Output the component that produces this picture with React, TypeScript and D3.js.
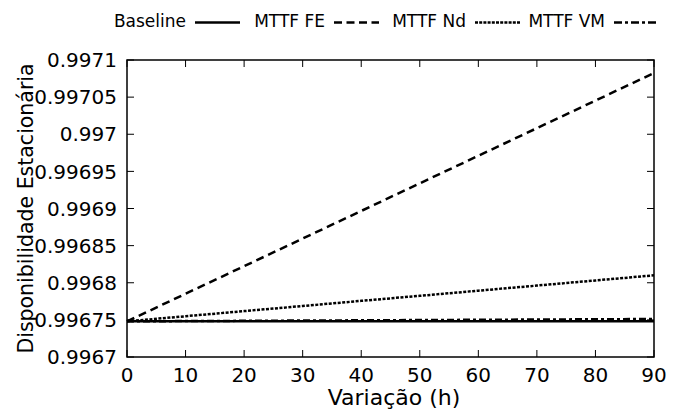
import React from "react";
import * as d3 from "d3";

const xValues = [0, 10, 20, 30, 40, 50, 60, 70, 80, 90];
const baseline = [0.996748, 0.996748, 0.996748, 0.996748, 0.996748, 0.996748, 0.996748, 0.996748, 0.996748, 0.996748];
const mttfFE = [0.996748, 0.9967852, 0.9968223, 0.9968595, 0.9968967, 0.9969339, 0.996971, 0.9970082, 0.9970453, 0.9970825];
const mttfNd = [0.996748, 0.9967549, 0.9967618, 0.9967687, 0.9967756, 0.9967824, 0.9967893, 0.9967962, 0.9968031, 0.99681];
const mttfVM = [0.996748, 0.9967484, 0.9967487, 0.9967491, 0.9967494, 0.9967498, 0.9967501, 0.9967505, 0.9967508, 0.9967512];

const xTicks = [0, 10, 20, 30, 40, 50, 60, 70, 80, 90];
const yTicks = [0.9967, 0.99675, 0.9968, 0.99685, 0.9969, 0.99695, 0.997, 0.99705, 0.9971];
const yTickLabels = ["0.9967", "0.99675", "0.9968", "0.99685", "0.9969", "0.99695", "0.997", "0.99705", "0.9971"];

const seriesNames = ["Baseline", "MTTF FE", "MTTF Nd", "MTTF VM"];
const seriesData = [baseline, mttfFE, mttfNd, mttfVM];
const dashes = ["none", "8,5", "3,1.5", "7,3,3,3"];
const legendDashes = ["none", "8,4.5", "3,1.2", "8,3,3,3"];

const W = 674;
const H = 412;
const margin = { left: 127, right: 20, top: 60, bottom: 55 };
const FONT = "DejaVu Sans";

export default function App() {
  const x = d3.scaleLinear().domain([0, 90]).range([margin.left, W - margin.right]);
  const y = d3.scaleLinear().domain([0.9967, 0.9971]).range([H - margin.bottom, margin.top]);
  const line = d3
    .line<number>()
    .x((_, i) => x(xValues[i]))
    .y((d) => y(d));

  const x0 = x.range()[0];
  const x1 = x.range()[1];
  const yB = y.range()[0];
  const yT = y.range()[1];
  const tl = 7;

  const legendTextEnd = [186, 325, 466, 605];
  const drawOrder = [1, 2, 3, 0];
  const ts = { fontFamily: FONT };

  return (
    <svg
      width={W}
      height={H}
      style={{ position: "absolute", left: 0, top: 0, background: "#fff", fontFamily: FONT }}
    >
      <rect x={0} y={0} width={W} height={H} fill="#fff" />
      {xTicks.map((t) => (
        <g key={"xt" + t}>
          <line x1={x(t)} x2={x(t)} y1={yB} y2={yB - tl} stroke="#000" strokeWidth={1} />
          <line x1={x(t)} x2={x(t)} y1={yT} y2={yT + tl} stroke="#000" strokeWidth={1} />
          <text x={x(t)} y={381.5} fontSize={20} textAnchor="middle" fill="#000" style={ts}>
            {t}
          </text>
        </g>
      ))}
      {yTicks.map((t, i) => (
        <g key={"yt" + i}>
          <line x1={x0} x2={x0 + tl} y1={y(t)} y2={y(t)} stroke="#000" strokeWidth={1} />
          <line x1={x1} x2={x1 - tl} y1={y(t)} y2={y(t)} stroke="#000" strokeWidth={1} />
          <text x={117} y={y(t)} dy="0.36em" fontSize={20} textAnchor="end" fill="#000" style={ts}>
            {yTickLabels[i]}
          </text>
        </g>
      ))}
      {drawOrder.map((k) => (
        <path
          key={"s" + k}
          d={line(seriesData[k]) || ""}
          fill="none"
          stroke="#000"
          strokeWidth={2.5}
          strokeDasharray={dashes[k]}
        />
      ))}
      <rect x={x0} y={yT} width={x1 - x0} height={yB - yT} fill="none" stroke="#000" strokeWidth={1.5} />
      <text x={394} y={405} fontSize={22} textAnchor="middle" fill="#000" style={ts}>
        Variação (h)
      </text>
      <text
        transform={`translate(33, ${(yT + yB) / 2}) rotate(-90)`}
        fontSize={20.5}
        textAnchor="middle"
        fill="#000"
        style={ts}
      >
        Disponibilidade Estacionária
      </text>
      {seriesNames.map((n, i) => (
        <g key={"lg" + i}>
          <text x={legendTextEnd[i]} y={27} fontSize={17} textAnchor="end" fill="#000" style={ts}>
            {n}
          </text>
          <line
            x1={legendTextEnd[i] + 9}
            x2={legendTextEnd[i] + 54}
            y1={22.5}
            y2={22.5}
            stroke="#000"
            strokeWidth={2.5}
            strokeDasharray={legendDashes[i]}
          />
        </g>
      ))}
    </svg>
  );
}
